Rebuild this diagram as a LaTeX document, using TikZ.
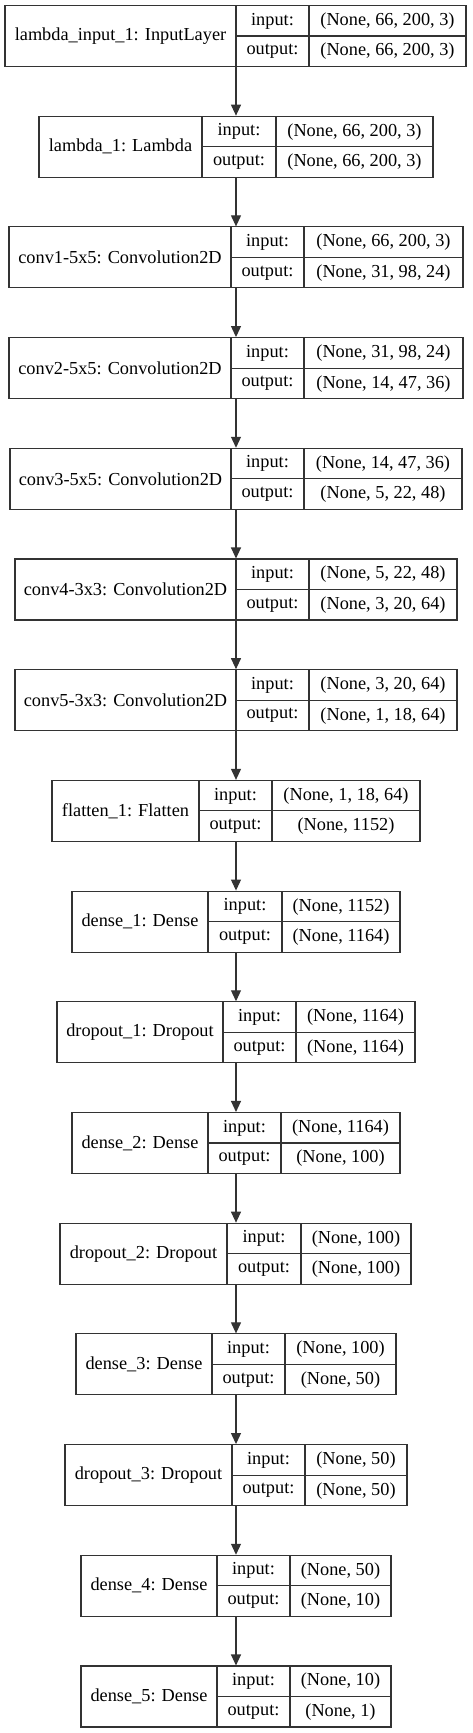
\documentclass[tikz,border=0pt]{standalone}
\usepackage{fontspec}
\setmainfont{Liberation Serif}
\usetikzlibrary{arrows.meta,fit}
\tikzset{
  boxline/.style={draw=black!80, line width=1.1pt},
  layerbox/.style={boxline, inner sep=0pt},
  txt/.style={inner sep=0pt, text=black, font=\fontsize{18.3}{22}\selectfont},
  flow/.style={draw=black!80, line width=1.1pt, -{Triangle[length=11pt,width=10pt]}}
}
% #1 name, #2 top, #3 x0, #4 x1, #5 d1, #6 d2, #7 label, #8 in, #9 out
\newcommand\kerasLayer[9]{%
  \node[layerbox, fit={(#3,#2) (#4,#2+61)}] (#1) {};
  \draw[boxline] (#5,#2) -- (#5,#2+61);
  \draw[boxline] (#6,#2) -- (#6,#2+61);
  \draw[boxline] (#5,#2+30.5) -- (#4,#2+30.5);
  \node[txt] (#1-label) at ({(#3+#5)/2},#2+30.5) {#7};
  \node[txt] (#1-inkey) at ({(#5+#6)/2},#2+15.5) {input:};
  \node[txt] (#1-outkey) at ({(#5+#6)/2},#2+46) {output:};
  \node[txt] (#1-in) at ({(#6+#4)/2},#2+15.5) {#8};
  \node[txt] (#1-out) at ({(#6+#4)/2},#2+46) {#9};
}
\begin{document}
\begin{tikzpicture}[x=1pt,y=-1pt]
\useasboundingbox[fill=white] (0,0) rectangle (472,1733);
\coordinate (ax) at (236,0);
\kerasLayer{L0}{5.5}{5}{466}{236}{309}{lambda\_input\_1: InputLayer}{(None, 66, 200, 3)}{(None, 66, 200, 3)}
\kerasLayer{L1}{116.2}{39}{433}{202}{276}{lambda\_1: Lambda}{(None, 66, 200, 3)}{(None, 66, 200, 3)}
\kerasLayer{L2}{226.9}{9}{463}{231}{304}{conv1-5x5: Convolution2D}{(None, 66, 200, 3)}{(None, 31, 98, 24)}
\kerasLayer{L3}{337.6}{9}{463}{231}{304}{conv2-5x5: Convolution2D}{(None, 31, 98, 24)}{(None, 14, 47, 36)}
\kerasLayer{L4}{448.3}{10}{462}{231}{304}{conv3-5x5: Convolution2D}{(None, 14, 47, 36)}{(None, 5, 22, 48)}
\kerasLayer{L5}{559.0}{15}{457}{236}{309}{conv4-3x3: Convolution2D}{(None, 5, 22, 48)}{(None, 3, 20, 64)}
\kerasLayer{L6}{669.7}{15}{457}{236}{309}{conv5-3x3: Convolution2D}{(None, 3, 20, 64)}{(None, 1, 18, 64)}
\kerasLayer{L7}{780.4}{52}{420}{199}{272}{flatten\_1: Flatten}{(None, 1, 18, 64)}{(None, 1152)}
\kerasLayer{L8}{891.1}{72}{400}{208}{282}{dense\_1: Dense}{(None, 1152)}{(None, 1164)}
\kerasLayer{L9}{1001.8}{57}{415}{223}{296}{dropout\_1: Dropout}{(None, 1164)}{(None, 1164)}
\kerasLayer{L10}{1112.5}{72}{400}{208}{281}{dense\_2: Dense}{(None, 1164)}{(None, 100)}
\kerasLayer{L11}{1223.2}{60}{411}{227}{301}{dropout\_2: Dropout}{(None, 100)}{(None, 100)}
\kerasLayer{L12}{1333.9}{76}{396}{212}{285}{dense\_3: Dense}{(None, 100)}{(None, 50)}
\kerasLayer{L13}{1444.6}{65}{407}{232}{305}{dropout\_3: Dropout}{(None, 50)}{(None, 50)}
\kerasLayer{L14}{1555.3}{81}{391}{217}{290}{dense\_4: Dense}{(None, 50)}{(None, 10)}
\kerasLayer{L15}{1666.0}{81}{391}{217}{290}{dense\_5: Dense}{(None, 10)}{(None, 1)}
\foreach \a/\b in {L0/L1,L1/L2,L2/L3,L3/L4,L4/L5,L5/L6,L6/L7,L7/L8,L8/L9,L9/L10,L10/L11,L11/L12,L12/L13,L13/L14,L14/L15}
  \draw[flow] (\a.south -| ax) -- (\b.north -| ax);
\end{tikzpicture}
\end{document}
